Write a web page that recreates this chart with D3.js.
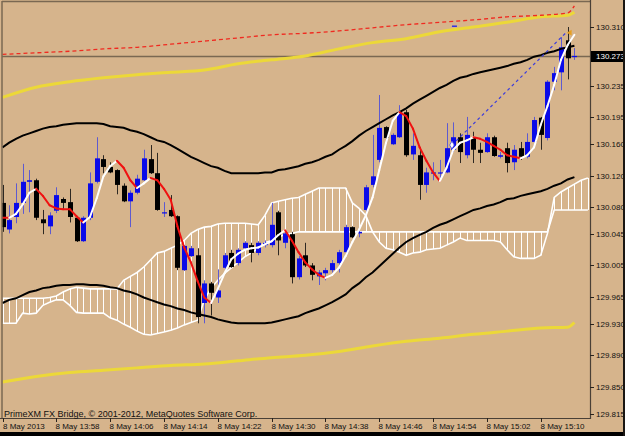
<!DOCTYPE html>
<html>
<head>
<meta charset="utf-8">
<script src="https://cdn.jsdelivr.net/npm/d3@7"></script>
<style>
html, body { margin: 0; padding: 0; background: #d6b48c; }
svg { display: block; }
text { font-family: "Liberation Sans", Arial, sans-serif; }
</style>
</head>
<body>
<div id="chart"></div>
<script>
// ---- data (1 minute bars, 13:50 .. 15:15) ----
const open = [130.085,130.051,130.067,130.085,130.112,130.114,130.064,130.055,130.075,130.090,
  130.086,130.066,130.036,130.066,130.112,130.141,130.131,130.127,130.107,130.087,
  130.098,130.114,130.141,130.123,130.072,130.076,130.068,129.999,130.017,130.018,
  129.957,129.982,129.964,130.002,130.021,130.008,130.027,130.031,130.021,130.031,
  130.031,130.073,130.034,130.045,129.990,130.018,130.005,129.991,129.995,129.999,
  130.008,130.022,130.054,130.046,130.076,130.108,130.140,130.182,130.160,130.169,
  130.201,130.147,130.146,130.108,130.123,130.123,130.124,130.153,130.169,130.146,
  130.168,130.153,130.150,130.169,130.144,130.155,130.137,130.155,130.144,130.163,
  130.194,130.168,130.240,130.252,130.293,130.272];
const high = [130.108,130.082,130.110,130.135,130.127,130.116,130.076,130.073,130.105,130.092,
  130.103,130.067,130.068,130.124,130.169,130.146,130.137,130.128,130.110,130.101,
  130.121,130.153,130.159,130.149,130.086,130.095,130.069,130.031,130.030,130.027,
  129.986,129.984,130.000,130.021,130.025,130.027,130.036,130.034,130.036,130.037,
  130.085,130.075,130.049,130.048,130.017,130.034,130.008,129.999,130.002,130.012,
  130.025,130.057,130.055,130.054,130.108,130.172,130.223,130.183,130.174,130.210,
  130.204,130.174,130.156,130.130,130.137,130.140,130.187,130.188,130.174,130.195,
  130.176,130.162,130.174,130.171,130.150,130.162,130.159,130.163,130.174,130.195,
  130.195,130.242,130.259,130.297,130.310,130.283];
const low = [130.048,130.046,130.059,130.071,130.073,130.063,130.045,130.045,130.072,130.076,
  130.060,130.035,130.035,130.063,130.110,130.123,130.123,130.096,130.086,130.054,
  130.096,130.113,130.122,130.075,130.067,130.067,129.999,129.998,130.016,129.931,
  129.931,129.941,129.957,129.999,130.002,130.005,130.025,130.009,130.018,130.028,
  130.028,130.018,130.027,129.982,129.987,130.003,129.986,129.980,129.986,129.996,
  129.996,130.020,130.040,130.041,130.073,130.105,130.137,130.165,130.159,130.168,
  130.144,130.140,130.089,130.098,130.114,130.117,130.123,130.150,130.136,130.142,
  130.136,130.136,130.149,130.144,130.142,130.124,130.127,130.140,130.142,130.162,
  130.153,130.165,130.229,130.229,130.243,130.268];
const close = [130.054,130.063,130.085,130.112,130.114,130.066,130.059,130.069,130.095,130.085,
  130.067,130.036,130.066,130.110,130.142,130.131,130.124,130.108,130.087,130.098,
  130.116,130.142,130.123,130.076,130.073,130.068,130.002,130.030,130.027,129.939,
  129.982,129.970,129.973,130.018,130.003,130.025,130.034,130.021,130.034,130.034,
  130.057,130.037,130.046,129.990,130.014,130.005,129.993,129.996,129.999,130.008,
  130.022,130.054,130.041,130.048,130.105,130.119,130.181,130.168,130.172,130.201,
  130.146,130.158,130.108,130.124,130.124,130.124,130.155,130.169,130.150,130.172,
  130.153,130.149,130.169,130.145,130.146,130.136,130.153,130.144,130.163,130.191,
  130.172,130.240,130.251,130.284,130.270,130.273];

// colour-changing moving average (red while falling, white while rising)
const ma = [130.066,130.066,130.071,130.083,130.098,130.103,130.094,130.082,130.078,130.077,
  130.077,130.068,130.060,130.067,130.091,130.119,130.132,130.139,130.130,130.114,
  130.104,130.110,130.117,130.114,130.103,130.089,130.055,130.028,130.009,129.985,
  129.964,129.957,129.975,129.995,130.013,130.020,130.025,130.027,130.028,130.032,
  130.036,130.044,130.050,130.037,130.022,130.009,130.000,129.993,129.989,129.993,
  130.002,130.017,130.035,130.051,130.069,130.092,130.127,130.162,130.190,130.201,
  130.196,130.180,130.156,130.139,130.124,130.113,130.130,130.153,130.162,130.165,
  130.169,130.167,130.163,130.158,130.153,130.146,130.144,130.142,130.146,130.156,
  130.185,130.209,130.236,130.268,130.287,130.300];

// black channel
const bandUp = [130.156,130.162,130.167,130.171,130.174,130.177,130.180,130.182,130.183,130.185,
  130.186,130.187,130.187,130.187,130.187,130.186,130.183,130.182,130.181,130.178,
  130.176,130.173,130.169,130.165,130.163,130.159,130.154,130.149,130.144,130.140,
  130.136,130.132,130.130,130.126,130.123,130.123,130.123,130.123,130.123,130.124,
  130.124,130.127,130.128,130.130,130.132,130.135,130.137,130.140,130.144,130.147,
  130.153,130.158,130.164,130.171,130.177,130.182,130.187,130.192,130.197,130.201,
  130.206,130.212,130.217,130.222,130.227,130.232,130.236,130.241,130.245,130.247,
  130.250,130.252,130.254,130.256,130.258,130.260,130.263,130.265,130.268,130.272,
  130.274,130.277,130.279,130.282,130.284,130.286];
const bandDn = [129.957,129.961,129.963,129.967,129.971,129.973,129.976,129.977,129.979,129.980,
  129.980,129.981,129.981,129.980,129.980,129.979,129.977,129.976,129.973,129.971,
  129.968,129.964,129.961,129.958,129.955,129.953,129.950,129.948,129.945,129.943,
  129.941,129.939,129.936,129.934,129.932,129.931,129.931,129.931,129.931,129.931,
  129.932,129.934,129.936,129.938,129.940,129.944,129.947,129.950,129.954,129.958,
  129.963,129.968,129.976,129.982,129.990,129.996,130.004,130.012,130.020,130.028,
  130.035,130.040,130.044,130.048,130.053,130.057,130.060,130.064,130.068,130.072,
  130.076,130.078,130.081,130.083,130.086,130.090,130.091,130.094,130.096,130.098,
  130.100,130.103,130.107,130.110,130.115,130.118];

// ichimoku cloud spans (run two bars past the last candle)
const spanA = [129.963,129.963,129.963,129.963,129.963,129.963,129.963,129.964,129.966,129.971,
  129.975,129.977,129.976,129.975,129.975,129.975,129.975,129.975,129.986,129.991,
  129.996,130.003,130.012,130.021,130.023,130.027,130.031,130.037,130.046,130.051,
  130.054,130.055,130.058,130.059,130.059,130.059,130.059,130.058,130.057,130.069,
  130.085,130.087,130.089,130.091,130.092,130.096,130.100,130.104,130.104,130.104,
  130.104,130.104,130.085,130.078,130.069,130.048,130.035,130.027,130.025,130.022,
  130.018,130.021,130.022,130.025,130.026,130.027,130.031,130.035,130.040,130.037,
  130.037,130.037,130.037,130.037,130.035,130.025,130.016,130.014,130.014,130.014,
  130.018,130.046,130.092,130.099,130.104,130.109,130.114,130.117];
const spanB = [129.931,129.931,129.931,129.944,129.943,129.944,129.954,129.958,129.961,129.961,
  129.954,129.945,129.944,129.944,129.944,129.944,129.938,129.935,129.930,129.926,
  129.921,129.917,129.916,129.918,129.920,129.922,129.925,129.929,129.932,129.935,
  129.961,129.976,129.986,129.995,130.002,130.009,130.016,130.021,130.027,130.034,
  130.037,130.041,130.045,130.046,130.048,130.048,130.048,130.048,130.048,130.048,
  130.048,130.048,130.048,130.048,130.048,130.048,130.048,130.048,130.048,130.048,
  130.048,130.048,130.048,130.048,130.048,130.048,130.048,130.048,130.048,130.048,
  130.048,130.048,130.048,130.048,130.048,130.048,130.048,130.048,130.048,130.048,
  130.048,130.048,130.076,130.076,130.076,130.076,130.076,130.076];

// yellow channel and red dotted line, read at these bars
const outerBars = [0,5,10,15,20,25,30,35,40,45,50,55,60,65,70,75,80,84,85];
const yellowUp = [130.220,130.233,130.240,130.245,130.249,130.252,130.255,130.263,130.268,130.273,
  130.282,130.290,130.295,130.304,130.310,130.316,130.323,130.325,130.329];
const yellowDn = [129.856,129.863,129.868,129.871,129.874,129.877,129.879,129.883,129.887,129.890,
  129.895,129.902,129.908,129.912,129.917,129.921,129.925,129.926,129.932];
const redDots = [130.275,130.277,130.279,130.282,130.284,130.288,130.292,130.296,130.300,130.302,
  130.305,130.309,130.313,130.316,130.319,130.323,130.325,130.328,130.337];

// blue dotted trendline
const trendBars = [66.8, 83.9];
const trendPrices = [130.159, 130.304];

const lastPrice = 130.273;
const priceTicks = [130.310,130.235,130.195,130.160,130.120,130.080,130.045,130.005,129.965,129.930,129.890,129.850,129.815];
const timeBars = [0,8,16,24,32,40,48,56,64,72,80];
const timeLabels = ["8 May 2013","8 May 13:58","8 May 14:06","8 May 14:14","8 May 14:22","8 May 14:30",
  "8 May 14:38","8 May 14:46","8 May 14:54","8 May 15:02","8 May 15:10"];

// ---- setup ----
const W = 625, H = 436;
const plot = {left: 2, top: 2, right: 590, bottom: 418};

const svg = d3.select('#chart').append('svg')
  .attr('width', W).attr('height', H);

let x = d3.scaleLinear().domain([0, 85]).range([2.5, 574.4]);
let y = d3.scaleLinear().domain([129.815, 130.310]).range([414, 27]);
const px = i => Math.round(x(i)) + 0.5;

svg.append('rect').attr('width', W).attr('height', H).attr('fill', '#d6b48c');

svg.append('defs').append('clipPath').attr('id', 'plotClip')
  .append('rect')
  .attr('x', plot.left).attr('y', plot.top)
  .attr('width', plot.right - plot.left).attr('height', plot.bottom - plot.top);

const g = svg.append('g').attr('clip-path', 'url(#plotClip)');

// bid line
g.append('line')
  .attr('x1', plot.left).attr('x2', plot.right)
  .attr('y1', Math.round(y(lastPrice)) + 0.5).attr('y2', Math.round(y(lastPrice)) + 0.5)
  .attr('stroke', '#7a6852').attr('stroke-width', 1.6);

// cloud hatch
g.append('g')
  .selectAll('line')
  .data(d3.range(spanA.length))
  .join('line')
  .attr('x1', px).attr('x2', px)
  .attr('y1', i => y(spanA[i])).attr('y2', i => y(spanB[i]))
  .attr('stroke', '#fff').attr('stroke-width', 1);

const idxLine = d3.line().x((d, i) => x(i)).y(d => y(d));
[spanA, spanB].forEach(s => {
  g.append('path').attr('d', idxLine(s))
    .attr('fill', 'none').attr('stroke', '#fff').attr('stroke-width', 1.6);
});

// candles
const bars = d3.range(open.length);
const up = i => close[i] >= open[i];
g.append('g')
  .selectAll('line')
  .data(bars)
  .join('line')
  .attr('x1', px).attr('x2', px)
  .attr('y1', i => y(high[i])).attr('y2', i => y(low[i]))
  .attr('stroke', i => up(i) ? '#5e5ad0' : '#2e2822')
  .attr('stroke-width', 1);

g.append('g')
  .selectAll('rect')
  .data(bars)
  .join('rect')
  .attr('x', i => Math.round(x(i)) - 2)
  .attr('width', 5)
  .attr('y', i => y(Math.max(open[i], close[i])))
  .attr('height', i => Math.max(1.2, Math.abs(y(open[i]) - y(close[i]))))
  .attr('fill', i => up(i) ? '#0a0ae8' : '#000');

// black channel
const outerLine = d3.line().x((d, i) => x(outerBars[i])).y(d => y(d)).curve(d3.curveMonotoneX);
[bandUp, bandDn].forEach(s => {
  g.append('path').attr('d', idxLine(s))
    .attr('fill', 'none').attr('stroke', '#000').attr('stroke-width', 2);
});

// yellow channel
[yellowUp, yellowDn].forEach(s => {
  g.append('path').attr('d', outerLine(s))
    .attr('fill', 'none').attr('stroke', '#ecd838').attr('stroke-width', 3);
});

// red dotted
g.append('path').attr('d', outerLine(redDots))
  .attr('fill', 'none').attr('stroke', '#f02a20')
  .attr('stroke-width', 1.3).attr('stroke-dasharray', '4,3');

// moving average, coloured by direction
g.append('g')
  .selectAll('line')
  .data(d3.range(1, ma.length))
  .join('line')
  .attr('x1', i => x(i - 1)).attr('y1', i => y(ma[i - 1]))
  .attr('x2', i => x(i)).attr('y2', i => y(ma[i]))
  .attr('stroke', i => ma[i] > ma[i - 1] ? '#ffffff' : '#f01010')
  .attr('stroke-width', 2)
  .attr('stroke-linecap', 'round');

// trendline + objects
g.append('line')
  .attr('x1', x(trendBars[0])).attr('y1', y(trendPrices[0]))
  .attr('x2', x(trendBars[1])).attr('y2', y(trendPrices[1]))
  .attr('stroke', '#3c3cdc').attr('stroke-width', 1.2).attr('stroke-dasharray', '3,3');
g.append('path')
  .attr('d', d3.symbol(d3.symbolDiamond, 18)())
  .attr('transform', `translate(${x(trendBars[0])},${y(trendPrices[0])})`)
  .attr('fill', '#fff').attr('stroke', '#4a4ae0').attr('stroke-width', 0.8);
g.append('path')
  .attr('d', d3.symbol(d3.symbolTriangle, 14)())
  .attr('transform', `translate(${x(trendBars[1]) + 3},${y(trendPrices[1]) + 1}) rotate(-90)`)
  .attr('fill', '#e8a020');
g.append('line')
  .attr('x1', x(trendBars[0])).attr('x2', x(trendBars[0]) + 5)
  .attr('y1', y(130.311)).attr('y2', y(130.311))
  .attr('stroke', '#3030e0').attr('stroke-width', 1.5);

// ---- frame and axes ----
const frameCol = '#7a6852';
svg.append('line').attr('x1', 2).attr('x2', 2).attr('y1', 1).attr('y2', plot.bottom)
  .attr('stroke', frameCol).attr('stroke-width', 1.5);
svg.append('line').attr('x1', 2).attr('x2', plot.right).attr('y1', 1.5).attr('y2', 1.5)
  .attr('stroke', frameCol).attr('stroke-width', 1.5);
svg.append('line').attr('x1', plot.right + 0.5).attr('x2', plot.right + 0.5).attr('y1', 0).attr('y2', plot.bottom + 1)
  .attr('stroke', '#4a4036').attr('stroke-width', 1.2);
svg.append('line').attr('x1', 0).attr('x2', plot.right + 1).attr('y1', plot.bottom + 0.5).attr('y2', plot.bottom + 0.5)
  .attr('stroke', '#4a4036').attr('stroke-width', 1.2);

// price axis
const pa = svg.append('g');
pa.selectAll('line')
  .data(priceTicks)
  .join('line')
  .attr('x1', plot.right).attr('x2', plot.right + 4)
  .attr('y1', d => Math.round(y(d)) + 0.5).attr('y2', d => Math.round(y(d)) + 0.5)
  .attr('stroke', '#2a241e');
pa.selectAll('text')
  .data(priceTicks)
  .join('text')
  .attr('x', plot.right + 6)
  .attr('y', d => y(d) + 3)
  .attr('font-size', 8)
  .attr('fill', '#111')
  .text(d => d.toFixed(3));

svg.append('rect')
  .attr('x', plot.right + 1).attr('y', Math.round(y(lastPrice)) - 5)
  .attr('width', 34).attr('height', 11).attr('fill', '#000');
svg.append('text')
  .attr('x', plot.right + 6).attr('y', y(lastPrice) + 3)
  .attr('font-size', 8).attr('fill', '#fff')
  .text(lastPrice.toFixed(3));

// time axis
const ta = svg.append('g');
ta.selectAll('line')
  .data(timeBars)
  .join('line')
  .attr('x1', px).attr('x2', px)
  .attr('y1', plot.bottom).attr('y2', plot.bottom + 4)
  .attr('stroke', '#2a241e');
ta.selectAll('text')
  .data(timeBars)
  .join('text')
  .attr('x', (d, i) => i === 0 ? 3 : px(d) - 1)
  .attr('y', 429)
  .attr('font-size', 8)
  .attr('fill', '#111')
  .text((d, i) => timeLabels[i]);

svg.append('text')
  .attr('x', 4).attr('y', 416.5)
  .attr('font-size', 9).attr('fill', '#111')
  .text('PrimeXM FX Bridge, \u00a9 2001-2012, MetaQuotes Software Corp.');

// window edges
svg.append('rect').attr('x', 0).attr('y', 432).attr('width', W).attr('height', 4).attr('fill', '#000');
svg.append('rect').attr('x', 623).attr('y', 0).attr('width', 2).attr('height', H).attr('fill', '#1a1612');
</script>
</body>
</html>
